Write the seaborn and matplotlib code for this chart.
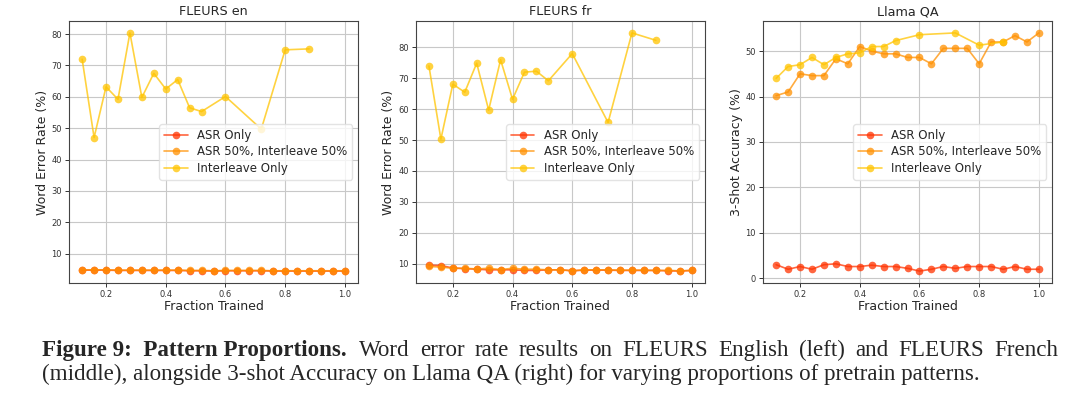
import numpy as np
import pandas as pd
import matplotlib
matplotlib.use('Agg')
import matplotlib.pyplot as plt
import seaborn as sns

# x positions (fraction of training done)
frac_all = [0.12, 0.16, 0.20, 0.24, 0.28, 0.32, 0.36, 0.40, 0.44, 0.48, 0.52, 0.56,
            0.60, 0.64, 0.68, 0.72, 0.76, 0.80, 0.84, 0.88, 0.92, 0.96, 1.00]
frac_inter = [0.12, 0.16, 0.20, 0.24, 0.28, 0.32, 0.36, 0.40, 0.44, 0.48, 0.52,
              0.60, 0.72, 0.80, 0.88]

# FLEURS en (WER %)
en_asr = [4.7, 4.7, 4.7, 4.6, 4.6, 4.6, 4.6, 4.6, 4.6, 4.5, 4.5, 4.4,
          4.5, 4.5, 4.5, 4.5, 4.4, 4.4, 4.4, 4.4, 4.4, 4.4, 4.4]
en_mix = [4.8, 4.8, 4.8, 4.7, 4.7, 4.7, 4.7, 4.7, 4.7, 4.6, 4.6, 4.5,
          4.6, 4.6, 4.6, 4.6, 4.5, 4.5, 4.5, 4.5, 4.5, 4.5, 4.5]
en_inter = [72.0, 47.0, 63.2, 59.2, 80.4, 59.8, 67.5, 62.5, 65.5, 56.5, 55.3,
            60.1, 49.7, 75.0, 75.3]

# FLEURS fr (WER %)
fr_asr = [9.5, 9.4, 8.6, 8.4, 8.2, 8.0, 8.0, 8.0, 7.8, 7.8, 8.0, 8.0,
          7.7, 7.9, 7.9, 7.9, 7.8, 7.8, 7.8, 7.8, 7.7, 7.6, 7.8]
fr_mix = [9.1, 8.9, 8.5, 8.5, 8.3, 8.5, 8.1, 8.5, 8.2, 8.2, 8.0, 8.0,
          7.7, 8.0, 8.0, 8.0, 7.9, 7.9, 7.9, 7.8, 7.8, 7.7, 7.8]
fr_inter = [74.0, 50.3, 68.1, 65.5, 74.9, 59.7, 76.0, 63.2, 72.0, 72.3, 69.2,
            78.0, 55.7, 84.7, 82.3]

# Llama QA (3-shot accuracy %)
qa_asr = [3.0, 2.0, 2.6, 2.0, 3.0, 3.2, 2.6, 2.6, 2.9, 2.6, 2.6, 2.2,
          1.6, 2.0, 2.6, 2.2, 2.6, 2.6, 2.6, 2.0, 2.6, 2.0, 2.0]
qa_mix = [40.2, 41.0, 45.0, 44.6, 44.6, 48.3, 47.2, 51.0, 50.0, 49.4, 49.4, 48.6,
          48.6, 47.2, 50.6, 50.6, 50.6, 47.2, 52.0, 52.0, 53.4, 52.0, 54.0]
qa_inter = [44.0, 46.6, 47.0, 48.6, 47.0, 48.6, 49.4, 49.6, 51.0, 51.0, 52.3,
            53.6, 54.0, 51.3, 52.0]

titles = ['FLEURS en', 'FLEURS fr', 'Llama QA']
ylabels = ['Word Error Rate (%)', 'Word Error Rate (%)', '3-Shot Accuracy (%)']
series_names = ['ASR Only', 'ASR 50%, Interleave 50%', 'Interleave Only']
colors = ['#ff3300', '#ff9000', '#ffc400']

caption_bold = 'Figure 9:  Pattern Proportions.'
caption_line1 = 'Word error rate results on FLEURS English (left) and FLEURS French'
caption_line2 = ('(middle), alongside 3-shot Accuracy on Llama QA (right) for varying '
                 'proportions of pretrain patterns.')

panels = [(en_asr, en_mix, en_inter), (fr_asr, fr_mix, fr_inter), (qa_asr, qa_mix, qa_inter)]

sns.set_style('ticks')
plt.rcParams['font.family'] = ['DejaVu Sans']

fig = plt.figure(figsize=(10.8, 3.96), dpi=100)
lefts = [0.0639, 0.385, 0.7065]

for i, (asr, mix, inter) in enumerate(panels):
    ax = fig.add_axes([lefts[i], 0.2854, 0.2676, 0.6616])
    xs = [frac_all, frac_all, frac_inter]
    ys = [asr, mix, inter]
    for name, x, y, c in zip(series_names, xs, ys, colors):
        df = pd.DataFrame({'frac': x, 'val': y})
        sns.lineplot(data=df, x='frac', y='val', ax=ax, color=c, marker='o',
                     markersize=5.5, markeredgewidth=0, linewidth=1.2,
                     alpha=0.75, label=name)
    ax.set_title(titles[i], fontsize=9.2, pad=4)
    ax.set_xlabel('Fraction Trained', fontsize=9, labelpad=1)
    ax.set_ylabel(ylabels[i], fontsize=9, labelpad=2)
    ax.set_xticks([0.2, 0.4, 0.6, 0.8, 1.0])
    ax.tick_params(labelsize=6, length=3, width=0.7, colors='#333333', pad=2)
    ax.grid(True, color='#c8c8c8', linewidth=0.8)
    for s in ax.spines.values():
        s.set_color('#444444')
        s.set_linewidth(0.8)
    leg = ax.legend(loc='center right', fontsize=8.5, frameon=True,
                    handlelength=2, borderpad=0.4, labelspacing=0.3)
    leg.get_frame().set_edgecolor('#dddddd')

# caption (first line justified to the right edge)
cap_fs = 16.6
W = 1080.0
renderer = fig.canvas.get_renderer()
y1 = 1 - 356 / 396.0
y2 = 1 - 380 / 396.0
fig.text(42 / W, y1, caption_bold, fontsize=cap_fs, family='Liberation Serif',
         weight='bold', ha='left', va='baseline')
words = caption_line1.split(' ')
texts = [fig.text(0, y1, w, fontsize=cap_fs, family='Liberation Serif',
                  ha='left', va='baseline') for w in words]
widths = [t.get_window_extent(renderer).width for t in texts]
start, end = 359.0, 1058.0
gap = (end - start - sum(widths)) / (len(words) - 1)
xpos = start
for t, w in zip(texts, widths):
    t.set_x(xpos / W)
    xpos += w + gap
fig.text(42 / W, y2, caption_line2, fontsize=cap_fs, family='Liberation Serif',
         ha='left', va='baseline')

fig.savefig('out.png', dpi=100)
